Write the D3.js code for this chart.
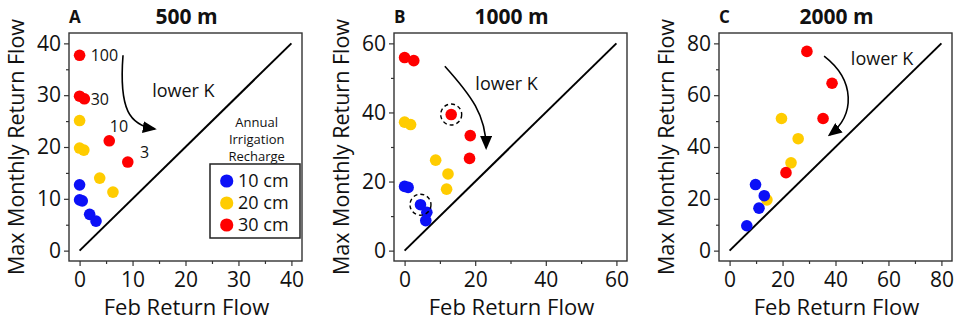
<!DOCTYPE html>
<html>
<head>
<meta charset="utf-8">
<script src="https://cdn.jsdelivr.net/npm/d3@7"></script>
<style>
  body { margin: 0; background: #fff; }
  svg { display: block; font-family: "Open Sans", "Noto Sans", sans-serif; }
</style>
</head>
<body>
<div id="chart"></div>
<script>
// panels (well spacing)
const panelTitles = ["500 m", "1000 m", "2000 m"];
const panelLetters = ["A", "B", "C"];
const axisMax = [40, 60, 80];
const majorTicks = [[0, 10, 20, 30, 40], [0, 20, 40, 60], [0, 20, 40, 60, 80]];
const minorTicks = [[5, 15, 25, 35], [10, 30, 50], [10, 30, 50, 70]];
const rechargeLabels = ["10 cm", "20 cm", "30 cm"];
const rechargeColors = ["#0b10f7", "#ffcc00", "#ff0000"];

// 500 m
const feb500_10 = [0, 0, 0.5, 1.9, 3.1];
const max500_10 = [12.7, 9.8, 9.6, 7.0, 5.7];
const feb500_20 = [0, 0, 0.8, 3.8, 6.3];
const max500_20 = [25.1, 19.8, 19.4, 14.0, 11.3];
const feb500_30 = [0, 0, 0.9, 5.6, 9.1];
const max500_30 = [37.7, 29.8, 29.3, 21.2, 17.1];

// 1000 m
const feb1000_10 = [0, 1.0, 4.5, 6.3, 6.0];
const max1000_10 = [18.6, 18.3, 13.3, 11.1, 8.7];
const feb1000_20 = [0, 1.7, 8.8, 12.3, 11.9];
const max1000_20 = [37.2, 36.5, 26.2, 22.2, 17.8];
const feb1000_30 = [0, 2.6, 13.2, 18.6, 18.4];
const max1000_30 = [55.9, 55.0, 39.4, 33.3, 26.7];

// 2000 m
const feb2000_10 = [9.8, 13.1, 11.1, 6.5];
const max2000_10 = [25.5, 21.2, 16.4, 9.6];
const feb2000_20 = [19.6, 25.9, 23.2, 14.1];
const max2000_20 = [51.0, 43.2, 33.9, 19.6];
const feb2000_30 = [29.2, 38.7, 35.3, 21.3];
const max2000_30 = [76.9, 64.6, 51.0, 30.1];

// K labels on panel A, circled points on panel B
const kLabels = ["100", "30", "10", "3"];
const kLabelX = [2.1, 2.1, 5.7, 11.4];
const kLabelY = [36.6, 28.1, 22.9, 17.8];
const circledFeb = [4.5, 13.2];
const circledMax = [13.3, 39.4];

// "lower K" arrows (data coords: start, ctrl1, ctrl2, end)
const arrowPts = [
  [[8.2, 37.7], [7.4, 27.1], [9.5, 24.2], [14.2, 23.5]],
  [[11.4, 53.4], [18.8, 45.0], [23.1, 39.2], [23.1, 29.7]],
  [[35.7, 75.1], [47.5, 65.8], [47.5, 52.3], [37.7, 44.6]]
];
const lowerKPos = [[19.6, 29.6], [28.9, 46.6], [57.6, 71.8]];

const series = [
  [[feb500_10, max500_10], [feb500_20, max500_20], [feb500_30, max500_30]],
  [[feb1000_10, max1000_10], [feb1000_20, max1000_20], [feb1000_30, max1000_30]],
  [[feb2000_10, max2000_10], [feb2000_20, max2000_20], [feb2000_30, max2000_30]]
];

const width = 957, height = 323;
const frameLeft = [69, 394, 719], frameW = 233, frameTop = 33, frameBottom = 261;

const svg = d3.select('#chart').append('svg')
  .attr('width', width).attr('height', height)
  .attr('viewBox', `0 0 ${width} ${height}`);

svg.append('defs').append('marker')
  .attr('id', 'head')
  .attr('markerUnits', 'userSpaceOnUse')
  .attr('markerWidth', 14).attr('markerHeight', 12)
  .attr('viewBox', '0 0 14 12')
  .attr('refX', 12).attr('refY', 6)
  .attr('orient', 'auto')
  .append('path').attr('d', 'M0,0 L14,6 L0,12 Z').attr('fill', '#000');

// draw order: yellow, blue, red
const drawOrder = [1, 0, 2];

panelTitles.forEach((title, p) => {
  const pad = axisMax[p] * 0.05;
  const x = d3.scaleLinear().domain([-pad, axisMax[p] + pad])
    .range([frameLeft[p], frameLeft[p] + frameW]);
  const y = d3.scaleLinear().domain([-pad, axisMax[p] + pad])
    .range([frameBottom, frameTop]);
  const g = svg.append('g');

  // axes
  const xAxis = g.append('g').attr('transform', `translate(0,${frameBottom})`)
    .call(d3.axisBottom(x).tickValues(majorTicks[p]).tickSize(5).tickPadding(6).tickSizeOuter(0));
  g.append('g').attr('transform', `translate(0,${frameBottom})`)
    .call(d3.axisBottom(x).tickValues(minorTicks[p]).tickSize(3).tickFormat(''))
    .select('.domain').remove();
  const yAxis = g.append('g').attr('transform', `translate(${frameLeft[p]},0)`)
    .call(d3.axisLeft(y).tickValues(majorTicks[p]).tickSize(5).tickPadding(3).tickSizeOuter(0));
  g.append('g').attr('transform', `translate(${frameLeft[p]},0)`)
    .call(d3.axisLeft(y).tickValues(minorTicks[p]).tickSize(3).tickFormat(''))
    .select('.domain').remove();
  [xAxis, yAxis].forEach(a => {
    a.select('.domain').remove();
    a.selectAll('text').attr('font-size', 21).attr('fill', '#111')
      .attr('font-family', '"Open Sans", sans-serif');
  });
  g.selectAll('.tick line').attr('stroke', '#333').attr('stroke-width', 1.2);

  // frame
  g.append('rect')
    .attr('x', frameLeft[p]).attr('y', frameTop)
    .attr('width', frameW).attr('height', frameBottom - frameTop)
    .attr('fill', 'none').attr('stroke', '#333').attr('stroke-width', 1.4);

  // 1:1 line
  g.append('line')
    .attr('x1', x(0)).attr('y1', y(0))
    .attr('x2', x(axisMax[p])).attr('y2', y(axisMax[p]))
    .attr('stroke', '#000').attr('stroke-width', 2);

  // points
  drawOrder.forEach(s => {
    const [xs, ys] = series[p][s];
    g.append('g').selectAll('circle').data(xs.map((v, i) => [v, ys[i]]))
      .join('circle')
      .attr('cx', d => x(d[0])).attr('cy', d => y(d[1]))
      .attr('r', 5.8).attr('fill', rechargeColors[s]);
  });

  // arrow
  const a = arrowPts[p];
  g.append('path')
    .attr('d', `M${x(a[0][0])},${y(a[0][1])} C${x(a[1][0])},${y(a[1][1])} ${x(a[2][0])},${y(a[2][1])} ${x(a[3][0])},${y(a[3][1])}`)
    .attr('fill', 'none').attr('stroke', '#000').attr('stroke-width', 1.6)
    .attr('marker-end', 'url(#head)');
  g.append('text')
    .attr('x', x(lowerKPos[p][0])).attr('y', y(lowerKPos[p][1]))
    .attr('text-anchor', 'middle').attr('font-size', 18).attr('fill', '#111')
    .text('lower K');

  // titles
  g.append('text')
    .attr('x', frameLeft[p] + frameW / 2 + 1).attr('y', 24)
    .attr('text-anchor', 'middle').attr('font-size', 21).attr('font-weight', 'bold')
    .attr('fill', '#111').text(title);
  g.append('text')
    .attr('x', frameLeft[p]).attr('y', 23)
    .attr('font-size', 17).attr('font-weight', 'bold').attr('fill', '#111')
    .text(panelLetters[p]);

  // axis labels
  g.append('text')
    .attr('x', frameLeft[p] + frameW / 2 + 1).attr('y', 315)
    .attr('text-anchor', 'middle').attr('font-size', 22).attr('fill', '#111')
    .text('Feb Return Flow');
  g.append('text')
    .attr('transform', `translate(${frameLeft[p] - 45},${(frameTop + frameBottom) / 2}) rotate(-90)`)
    .attr('text-anchor', 'middle').attr('font-size', 21.5).attr('fill', '#111')
    .text('Max Monthly Return Flow');

  if (p === 0) {
    g.append('g').selectAll('text').data(kLabels).join('text')
      .attr('x', (d, i) => x(kLabelX[i])).attr('y', (d, i) => y(kLabelY[i]))
      .attr('font-size', 16).attr('fill', '#111')
      .text(d => d);

    // legend
    const lg = g.append('g');
    ['Annual', 'Irrigation', 'Recharge'].forEach((t, i) => {
      lg.append('text').attr('x', 256.7).attr('y', 122 + i * 17.3)
        .attr('dy', '0.35em').attr('text-anchor', 'middle')
        .attr('font-size', 13).attr('fill', '#111').text(t);
    });
    lg.append('rect').attr('x', 210).attr('y', 164).attr('width', 90).attr('height', 74)
      .attr('fill', '#fff').attr('stroke', '#222').attr('stroke-width', 1.5);
    rechargeLabels.forEach((t, i) => {
      lg.append('circle').attr('cx', 226.7).attr('cy', 181 + i * 22)
        .attr('r', 6.6).attr('fill', rechargeColors[i]);
      lg.append('text').attr('x', 238).attr('y', 181 + i * 22).attr('dy', '0.35em')
        .attr('font-size', 18).attr('fill', '#111').text(t);
    });
  }

  if (p === 1) {
    g.append('g').selectAll('circle').data(circledFeb.map((v, i) => [v, circledMax[i]]))
      .join('circle')
      .attr('cx', d => x(d[0])).attr('cy', d => y(d[1]))
      .attr('r', 10.5).attr('fill', 'none')
      .attr('stroke', '#000').attr('stroke-width', 1.4)
      .attr('stroke-dasharray', '4,3');
  }
});
</script>
</body>
</html>
